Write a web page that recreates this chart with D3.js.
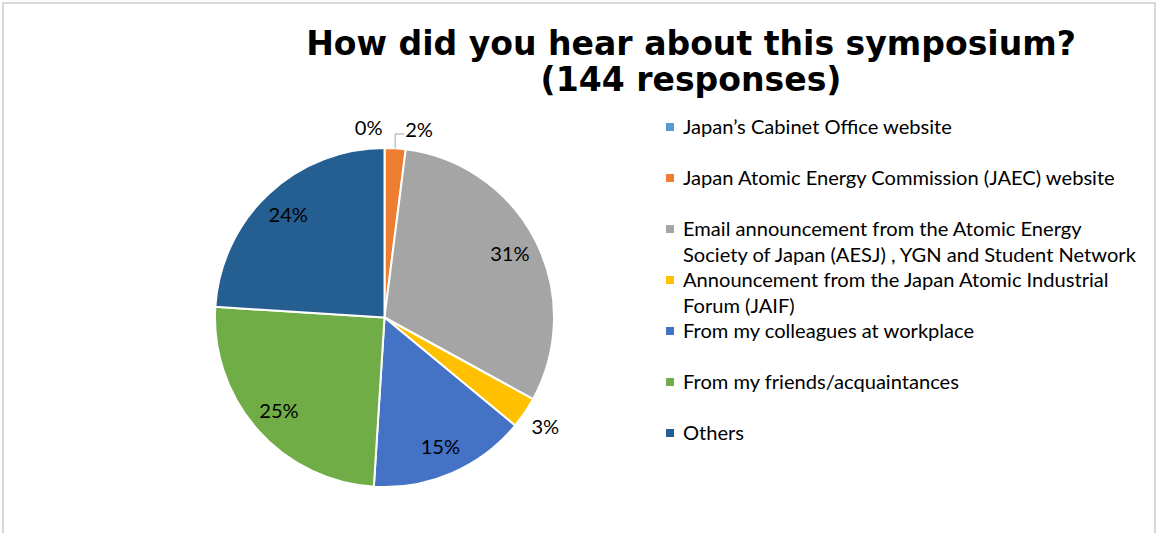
<!DOCTYPE html>
<html><head><meta charset="utf-8">
<script src="https://cdn.jsdelivr.net/npm/d3@7"></script>
<style>body{margin:0;background:#fff}svg{display:block}</style>
</head><body>
<svg id="c" width="1157" height="533"></svg>
<script>
const titleLines = ["How did you hear about this symposium?", "(144 responses)"];
const categories = [
  "Japan\u2019s Cabinet Office website",
  "Japan Atomic Energy Commission (JAEC) website",
  "Email announcement from the Atomic Energy Society of Japan (AESJ) , YGN and Student Network",
  "Announcement from the Japan Atomic Industrial Forum (JAIF)",
  "From my colleagues at workplace",
  "From my friends/acquaintances",
  "Others"
];
const percentages = [0, 2, 31, 3, 15, 25, 24];
const colors = ["#5B9BD5", "#ED7D31", "#A5A5A5", "#FFC000", "#4472C4", "#70AD47", "#255E91"];

const svg = d3.select("#c");
const W = 1157, H = 533;
svg.append("rect").attr("x", 3).attr("y", 3).attr("width", W - 5).attr("height", H + 10)
  .attr("fill", "#fff").attr("stroke", "#d9d9d9").attr("stroke-width", 2);

// Title
const titleFont = "'DejaVu Sans', Verdana, sans-serif";
const t1 = svg.append("text").attr("font-family", titleFont).attr("font-weight", "bold")
  .attr("font-size", 32).text(titleLines[0]);
const tsize = 32 * 770 / t1.node().getComputedTextLength();
t1.remove();
const titleCx = 691;
[55, 91].forEach((y, i) => {
  svg.append("text").attr("x", titleCx).attr("y", y).attr("text-anchor", "middle")
    .attr("font-family", titleFont).attr("font-weight", "bold").attr("font-size", tsize)
    .attr("fill", "#000").text(titleLines[i]);
});

// Body font sizing (Calibri-like)
const bodyFont = "Lato, 'Open Sans', sans-serif";
const m = svg.append("text").attr("font-family", bodyFont).attr("font-size", 18).text(categories[1]);
const bsize = 18 * 432 / m.node().getComputedTextLength();
m.remove();

// Pie
const cx = 384.5, cy = 317.5, R = 169.5;
const g = svg.append("g").attr("transform", `translate(${cx},${cy})`);
const pie = d3.pie().sort(null).value(d => d);
const arcs = pie(percentages);
const arc = d3.arc().innerRadius(0).outerRadius(R);
g.selectAll("path.slice").data(arcs).join("path").attr("class", "slice")
  .attr("d", arc).attr("fill", (d, i) => colors[i])
  .attr("stroke", "#fff").attr("stroke-width", 2).attr("stroke-linejoin", "round");

// Labels
const inner = d3.arc().innerRadius(R * 0.83).outerRadius(R * 0.83);
arcs.forEach((d, i) => {
  const lab = percentages[i] + "%";
  const mid = (d.startAngle + d.endAngle) / 2;
  const txt = g.append("text").attr("font-family", bodyFont).attr("font-size", bsize)
    .attr("fill", "#000").text(lab);
  if (percentages[i] >= 5) {
    const [x, y] = inner.centroid(d);
    txt.attr("x", x).attr("y", y).attr("text-anchor", "middle").attr("dy", "0.35em");
  } else if (percentages[i] === 0) {
    txt.attr("x", Math.sin(mid) * (R + 20) - 2).attr("y", -Math.cos(mid) * (R + 20))
      .attr("text-anchor", "end").attr("dy", "0.35em");
  } else if (mid < 0.2) {
    const px = Math.sin(mid) * R, py = -Math.cos(mid) * R;
    const ly = -(R + 14);
    g.append("path").attr("d", `M${px},${py}V${ly}H${px + 9}`)
      .attr("fill", "none").attr("stroke", "#a6a6a6").attr("stroke-width", 1);
    txt.attr("x", px + 10).attr("y", ly - 4).attr("text-anchor", "start").attr("dy", "0.35em");
  } else {
    const r2 = R + 25;
    txt.attr("x", Math.sin(mid) * r2).attr("y", -Math.cos(mid) * r2)
      .attr("text-anchor", "middle").attr("dy", "0.35em");
  }
});

// Legend
const lgX = 666, lgY0 = 127, lgStep = 51, lineH = 26, maxW = 455;
const lg = svg.append("g");
categories.forEach((c, i) => {
  const y = lgY0 + i * lgStep;
  lg.append("rect").attr("x", lgX).attr("y", y - 4).attr("width", 8).attr("height", 8).attr("fill", colors[i]);
  const t = lg.append("text").attr("font-family", bodyFont).attr("font-size", bsize).attr("fill", "#000");
  const words = c.split(" ");
  let line = [], ln = 0;
  let ts = t.append("tspan").attr("x", lgX + 17).attr("y", y).attr("dy", "0.35em");
  words.forEach(w => {
    line.push(w);
    ts.text(line.join(" "));
    if (ts.node().getComputedTextLength() > maxW && line.length > 1) {
      line.pop(); ts.text(line.join(" "));
      line = [w]; ln++;
      ts = t.append("tspan").attr("x", lgX + 17).attr("y", y + ln * lineH).attr("dy", "0.35em").text(w);
    }
  });
});
</script>
</body></html>
